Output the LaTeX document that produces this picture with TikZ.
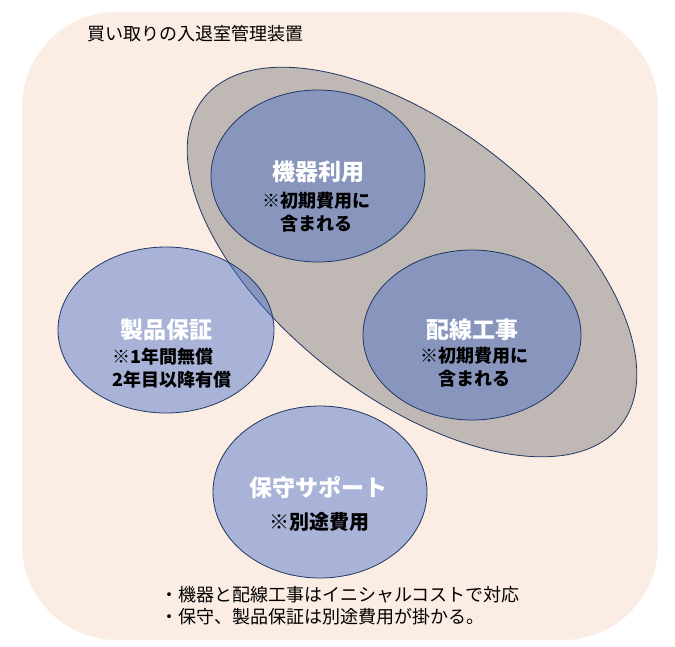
\documentclass[tikz,border=0pt]{standalone}
\usepackage{fontspec}
\setmainfont{Noto Sans CJK JP}
\definecolor{sfondo}{RGB}{251,236,228}
\definecolor{bordoblu}{RGB}{31,56,100}
\definecolor{cerchioblu}{RGB}{68,110,200}
\definecolor{grigio}{RGB}{128,128,128}
\begin{document}
\begin{tikzpicture}[x=1pt,y=-1pt,
        bordo/.style={draw=bordoblu,line width=0.8pt},
        cerchio/.style={bordo,fill=cerchioblu,fill opacity=0.45},
        titolo/.style={text=white,font=\fontsize{23}{26}\selectfont\bfseries},
        nota/.style={text=black,font=\fontsize{18}{23}\selectfont\bfseries,align=center}]
            %sfondo arrotondato
            \useasboundingbox (0,0) rectangle (675,646);
            \fill[sfondo,rounded corners=95pt] (22,12) rectangle (658,640);

            %disegna l'ellisse grigia
            \draw[bordo,fill=grigio,fill opacity=0.48,rotate around={-38:(412,262)}] (412,262) ellipse (265 and 135);

            %disegna i quattro cerchi
            \draw[cerchio] (318,176) ellipse (107 and 86);
            \draw[cerchio] (472,335) ellipse (109 and 85);
            \draw[cerchio] (166,330) ellipse (108 and 83);
            \draw[cerchio] (320,492) ellipse (107 and 86);

            %testi nei cerchi
            \node[titolo] (kiki) at (318,172) {機器利用};
            \node[nota] (kikinota) at (316,212) {※初期費用に\\含まれる};
            \node[titolo] (haisen) at (472,330) {配線工事};
            \node[nota] (haisennota) at (474,367) {※初期費用に\\含まれる};
            \node[titolo] (hosho) at (166,330) {製品保証};
            \node[nota,align=left,anchor=west,inner sep=0pt] (hoshonota) at (112,368) {※1年間無償\\2年目以降有償};
            \node[titolo] (hoshu) at (318,488) {保守サポート};
            \node[nota,font=\fontsize{20}{24}\selectfont\bfseries] (hoshunota) at (319,522) {※別途費用};

            %titolo e note in basso
            \node[font=\fontsize{18}{22}\selectfont,anchor=west,inner sep=0pt] (titolo) at (87,34) {買い取りの入退室管理装置};
            \node[font=\fontsize{18}{22}\selectfont,align=left,anchor=west,inner sep=0pt] (note) at (160,606) {・機器と配線工事はイニシャルコストで対応\\・保守、製品保証は別途費用が掛かる。};
        \end{tikzpicture}
\end{document}
